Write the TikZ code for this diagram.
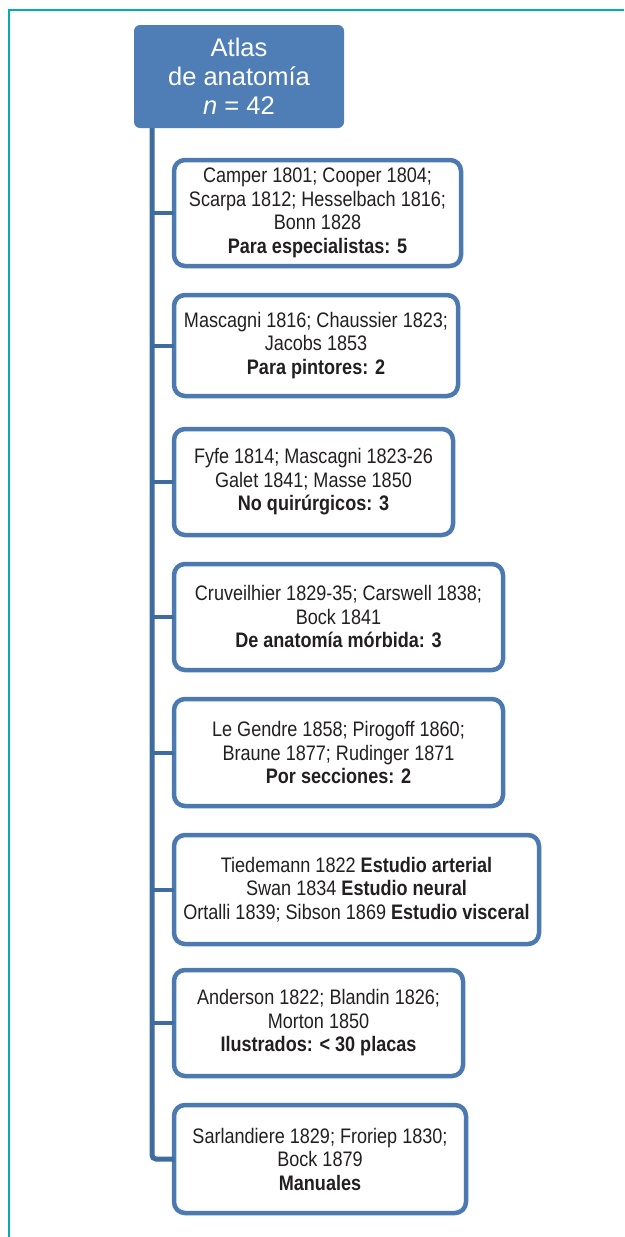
\documentclass[tikz,border=0pt]{standalone}
\usepackage{fontspec}
\setmainfont{Liberation Sans}[FakeStretch=0.86]
\newfontfamily\headfont{Liberation Sans}
\definecolor{headblue}{HTML}{4F7EB7}
\definecolor{boxblue}{HTML}{4B79B0}
\definecolor{spineblue}{HTML}{3F6C9F}
\definecolor{framecol}{HTML}{00AEB0}
\definecolor{textc}{HTML}{231F20}
\tikzset{
  headbox/.style={fill=headblue, draw=none, rounded corners=6pt, text=white, align=center,
    inner sep=0pt, outer sep=0pt, minimum width=210pt, minimum height=103pt,
    font=\headfont\fontsize{25.5}{29}\selectfont},
  box/.style={draw=boxblue, line width=4.5pt, rounded corners=11pt, fill=white, align=center,
    anchor=north west, inner sep=0pt, outer sep=0pt, text=textc,
    font=\fontsize{21}{23.5}\selectfont},
  spine/.style={draw=spineblue, line width=5pt, rounded corners=4pt},
  stub/.style={draw=spineblue, line width=4pt},
  frame/.style={draw=framecol, line width=2pt}
}
\begin{document}
\begin{tikzpicture}[x=1pt,y=1pt]
\useasboundingbox (0,0) rectangle (624,-1237);
\fill[white] (0,0) rectangle (624,-1237);
% frame
\coordinate (f1) at (624,-10);
\coordinate (f2) at (9,-10);
\coordinate (f3) at (9,-1237);
\draw[frame] (f1) -- (f2) -- (f3);
% header
\node[headbox] (top) at (239,-76.5) {Atlas\\de anatomía\\\textit{n} = 42};
% boxes
\node[box, minimum width=287pt, minimum height=106pt] (b1) at (174,-160)
  {Camper 1801; Cooper 1804;\\Scarpa 1812; Hesselbach 1816;\\Bonn 1828\\\textbf{Para especialistas: 5}};
\node[box, minimum width=284pt, minimum height=101pt] (b2) at (174,-295)
  {Mascagni 1816; Chaussier 1823;\\Jacobs 1853\\\textbf{Para pintores: 2}};
\node[box, minimum width=279pt, minimum height=106pt] (b3) at (174,-429)
  {Fyfe 1814; Mascagni 1823-26\\Galet 1841; Masse 1850\\\textbf{No quirúrgicos: 3}};
\node[box, minimum width=329pt, minimum height=106pt] (b4) at (174,-564)
  {Cruveilhier 1829-35; Carswell 1838;\\Bock 1841\\\textbf{De anatomía mórbida: 3}};
\node[box, minimum width=329pt, minimum height=107pt] (b5) at (174,-699)
  {Le Gendre 1858; Pirogoff 1860;\\Braune 1877; Rudinger 1871\\\textbf{Por secciones: 2}};
\node[box, minimum width=365pt, minimum height=109pt] (b6) at (174,-835)
  {Tiedemann 1822 \textbf{Estudio arterial}\\Swan 1834 \textbf{Estudio neural}\\Ortalli 1839; Sibson 1869 \textbf{Estudio visceral}};
\node[box, minimum width=289pt, minimum height=106pt] (b7) at (174,-970)
  {Anderson 1822; Blandin 1826;\\Morton 1850\\\textbf{Ilustrados: < 30 placas}};
\node[box, minimum width=292pt, minimum height=108pt] (b8) at (174,-1105)
  {Sarlandiere 1829; Froriep 1830;\\Bock 1879\\\textbf{Manuales}};
% spine and stubs
\coordinate (sptop) at (152,-128);
\draw[spine] (sptop) |- (b8.west);
\foreach \b in {b1,b2,b3,b4,b5,b6,b7}{
  \draw[stub] (sptop |- \b.west) -- (\b.west);
}
\end{tikzpicture}
\end{document}
